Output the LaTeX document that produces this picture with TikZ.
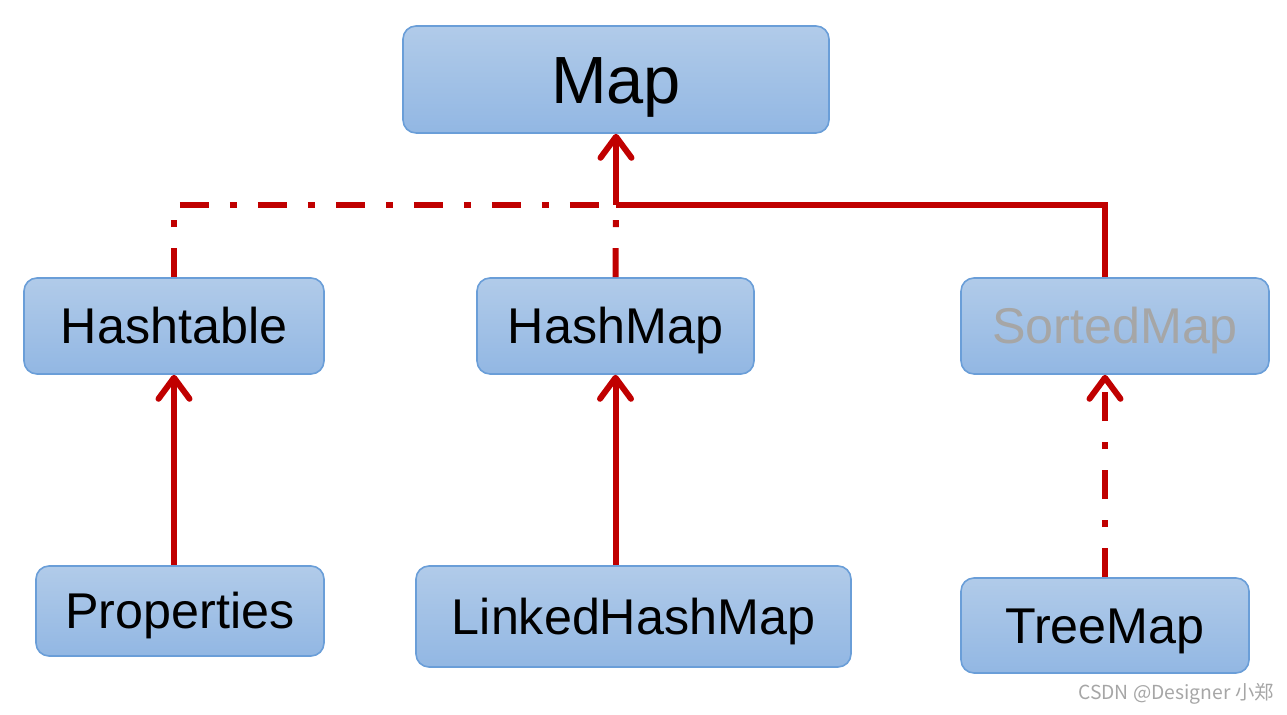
\documentclass[tikz,border=0pt]{standalone}
\usepackage{fontspec}
\setmainfont{Liberation Sans}
\newfontfamily\cjk{Noto Sans CJK SC}
\usetikzlibrary{arrows.meta}
\definecolor{boxtop}{RGB}{177,203,233}
\definecolor{boxbottom}{RGB}{146,183,227}
\definecolor{boxline}{RGB}{106,158,216}
\definecolor{linkred}{RGB}{192,0,0}
\definecolor{mutedgray}{RGB}{166,166,166}

\begin{document}
\begin{tikzpicture}[
		classbox/.style={draw=boxline, line width=0.9pt, rounded corners=0.26cm, top color=boxtop, bottom color=boxbottom, inner sep=0pt, text height=20pt, text depth=0pt, font=\fontsize{28.6}{30}\selectfont},
		redline/.style={linkred, line width=0.12cm},
		dashdot/.style={dash pattern=on 0.58cm off 0.42cm on 0.14cm off 0.42cm},
		inherit/.style={-{Straight Barb[length=0.42cm, width=0.62cm, round]}}
	]
			\useasboundingbox (0,0) rectangle (25.74,-14.3);
			
			\node[classbox, minimum width=8.52cm, minimum height=2.14cm, text height=27pt, font=\fontsize{38}{40}\selectfont] (map) at (12.32, -1.59) {Map};
			
			\node[classbox, minimum width=6.0cm, minimum height=1.92cm] (hashtable) at (3.48, -6.52) {Hashtable};
			\node[classbox, minimum width=5.54cm, minimum height=1.92cm] (hashmap) at (12.31, -6.52) {HashMap};
			\node[classbox, minimum width=6.16cm, minimum height=1.92cm, text=mutedgray] (sortedmap) at (22.30, -6.52) {SortedMap};
			
			\node[classbox, minimum width=5.76cm, minimum height=1.80cm] (properties) at (3.60, -12.22) {Properties};
			\node[classbox, minimum width=8.70cm, minimum height=2.02cm] (linkedhashmap) at (12.67, -12.33) {LinkedHashMap};
			\node[classbox, minimum width=5.76cm, minimum height=1.90cm] (treemap) at (22.10, -12.51) {TreeMap};
			
			\coordinate (junction) at (12.32, -4.10);
			
			% second level up to Map
			\draw [redline] (treemap.north |- sortedmap.north) |- (junction);
			\draw [redline, inherit] (junction) -- (map.south);
			\draw [redline, dashdot] (hashtable.north) |- (junction);
			\draw [redline, dashdot] (hashmap.north) -- (junction);
			
			% bottom level
			\draw [redline, inherit] (hashtable.south |- properties.north) -- (hashtable.south);
			\draw [redline, inherit] (hashmap.south |- linkedhashmap.north) -- (hashmap.south);
			\draw [redline, dashdot, inherit] (treemap.north) -- (treemap.north |- sortedmap.south);
			
			\node[mutedgray, font=\cjk\fontsize{11}{13}\selectfont] (watermark) at (23.52, -13.88) {CSDN @Designer 小郑};
			
		\end{tikzpicture}
\end{document}
